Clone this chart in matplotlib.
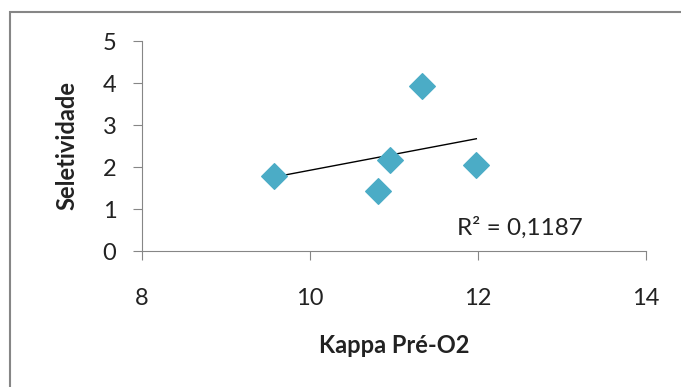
import matplotlib.pyplot as plt
from matplotlib.patches import Rectangle
import numpy as np

# dados
kappa = [9.57, 10.81, 10.95, 11.33, 11.98]
seletividade = [1.79, 1.43, 2.17, 3.93, 2.05]
r2_texto = "R² = 0,1187"

plt.rcParams['font.family'] = ['Lato', 'DejaVu Sans']

fig = plt.figure(figsize=(6.81, 3.87), dpi=100)
# borda da area do grafico
fig.patches.append(Rectangle((10 / 681, -0.1), 1.2, 1 - 12 / 387 + 0.1,
                             transform=fig.transFigure, fill=False,
                             edgecolor="#868686", lw=1.5))

ax = fig.add_axes([142 / 681, 1 - 251 / 387, 504 / 681, 210 / 387])
ax.scatter(kappa, seletividade, marker="D", s=170, color="#4BACC6", zorder=3)

# linha de tendencia linear
a, b = np.polyfit(kappa, seletividade, 1)
xt = np.array([min(kappa), max(kappa)])
ax.plot(xt, a * xt + b, color="black", lw=1.0, zorder=2)

ax.set_xlim(8, 14)
ax.set_ylim(0, 5)
ax.set_xticks([8, 10, 12, 14])
ax.set_yticks([0, 1, 2, 3, 4, 5])
for s in ["top", "right"]:
    ax.spines[s].set_visible(False)
for s in ["left", "bottom"]:
    ax.spines[s].set_color("#868686")
ax.tick_params(axis="both", colors="#868686", labelcolor="#222222",
               labelsize=17, length=6.5)
ax.tick_params(axis="x", pad=20)
ax.tick_params(axis="y", pad=12)

ax.set_xlabel("Kappa Pré-O2", fontsize=17, fontweight="bold", labelpad=18,
              color="#222222")
ax.set_ylabel("Seletividade", fontsize=17, fontweight="bold", labelpad=17,
              color="#222222")
ax.text(457, 387 - 228, r2_texto, transform=None, fontsize=17.5,
        color="#222222", va="center", ha="left")

fig.savefig("out.png", dpi=100)
